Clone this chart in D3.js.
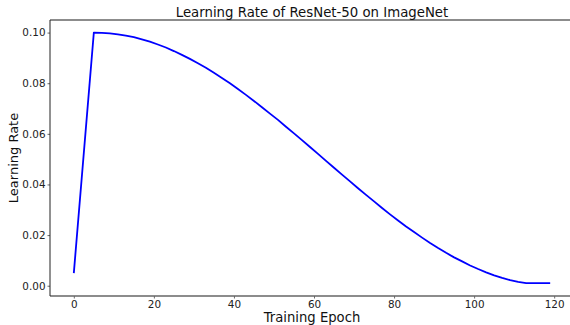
<!DOCTYPE html>
<html>
<head>
<meta charset="utf-8">
<script src="https://cdn.jsdelivr.net/npm/d3@7"></script>
<style>
  body { margin: 0; background: #fff; }
  svg { display: block; font-family: "DejaVu Sans", sans-serif; }
</style>
</head>
<body>
<svg width="570" height="325"></svg>
<script>
// epochs and learning rate
const epochs = [0, 5, 7, 9, 11, 13, 15, 17, 19, 21, 23, 25, 27, 29, 31, 33, 35, 37, 39,
  41, 43, 45, 47, 49, 51, 53, 55, 57, 59, 61, 63, 65, 67, 69, 71, 73, 75, 77, 79,
  81, 83, 85, 87, 89, 91, 93, 95, 97, 99, 101, 103, 105, 107, 109, 111, 113, 119];
const lrValues = [0.005, 0.1, 0.0999, 0.0997, 0.0993, 0.0988, 0.0982, 0.0973, 0.0964,
  0.0953, 0.0941, 0.0927, 0.0912, 0.0896, 0.0879, 0.0861, 0.0841, 0.0821, 0.0800,
  0.0777, 0.0754, 0.0730, 0.0705, 0.0680, 0.0655, 0.0628, 0.0602, 0.0575, 0.0548,
  0.0521, 0.0493, 0.0466, 0.0439, 0.0412, 0.0385, 0.0359, 0.0333, 0.0307, 0.0282,
  0.0258, 0.0234, 0.0212, 0.0190, 0.0169, 0.0149, 0.0130, 0.0112, 0.0096, 0.0080,
  0.0066, 0.0053, 0.0041, 0.0031, 0.0022, 0.0015, 0.0010, 0.0010];
const xTicks = [0, 20, 40, 60, 80, 100, 120];
const yTicks = [0.00, 0.02, 0.04, 0.06, 0.08, 0.10];

var svg = d3.select("svg");
var plotLeft = 50, plotRight = 574, plotTop = 20, plotBottom = 296;

var x = d3.scaleLinear().domain([-5.95, 124.95]).range([plotLeft, plotRight]);
var y = d3.scaleLinear().domain([-0.00406, 0.10497]).range([plotBottom, plotTop]);

var data = epochs.map(function (e, i) { return { e: e, lr: lrValues[i] }; });

// axes
var xAxis = svg.append("g")
  .attr("transform", "translate(0," + plotBottom + ")")
  .call(d3.axisBottom(x).tickValues(xTicks).tickSize(2.5).tickPadding(2)
    .tickFormat(d3.format("d")));
var yAxis = svg.append("g")
  .attr("transform", "translate(" + plotLeft + ",0)")
  .call(d3.axisLeft(y).tickValues(yTicks).tickSize(2.5).tickPadding(2)
    .tickFormat(d3.format(".2f")));

[xAxis, yAxis].forEach(function (g) {
  g.selectAll("text").attr("font-size", "10.4px").attr("fill", "#222")
    .attr("font-family", "DejaVu Sans, sans-serif");
  g.selectAll(".tick line").attr("stroke", "#444").attr("stroke-width", 0.8);
});
xAxis.select(".domain").remove();
yAxis.select(".domain").remove();

// spines
svg.append("line").attr("x1", plotLeft).attr("x2", plotRight).attr("y1", plotTop).attr("y2", plotTop)
  .attr("stroke", "#666").attr("stroke-width", 1.3);
svg.append("line").attr("x1", plotLeft).attr("x2", plotRight).attr("y1", plotBottom).attr("y2", plotBottom)
  .attr("stroke", "#666").attr("stroke-width", 1.3);
svg.append("line").attr("x1", plotLeft).attr("x2", plotLeft).attr("y1", plotTop).attr("y2", plotBottom)
  .attr("stroke", "#222").attr("stroke-width", 1);

// the curve
var line = d3.line()
  .x(function (d) { return x(d.e); })
  .y(function (d) { return y(d.lr); });

svg.append("path")
  .datum(data)
  .attr("d", line)
  .attr("fill", "none")
  .attr("stroke", "#0000ff")
  .attr("stroke-width", 1.8)
  .attr("stroke-linejoin", "round");

// labels
svg.append("text")
  .attr("x", (plotLeft + plotRight) / 2).attr("y", 17)
  .attr("text-anchor", "middle").attr("font-size", "13.3px").attr("fill", "#111")
  .text("Learning Rate of ResNet-50 on ImageNet");

svg.append("text")
  .attr("x", (plotLeft + plotRight) / 2).attr("y", 322)
  .attr("text-anchor", "middle").attr("font-size", "13.2px").attr("fill", "#111")
  .text("Training Epoch");

svg.append("text")
  .attr("transform", "translate(18," + ((plotTop + plotBottom) / 2) + ") rotate(-90)")
  .attr("text-anchor", "middle").attr("font-size", "13px").attr("fill", "#111")
  .text("Learning Rate");
</script>
</body>
</html>
